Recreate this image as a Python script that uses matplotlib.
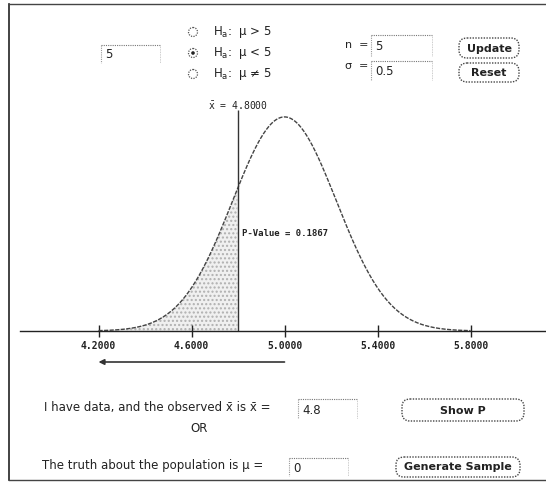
import numpy as np
import matplotlib
matplotlib.use("Agg")
import matplotlib.pyplot as plt
from matplotlib.patches import FancyBboxPatch, Circle

# ---- data ----
mu0 = 5.0
sigma = 0.5
n = 5
xbar = 4.8
p_value_label = "0.1867"
tick_values = [4.2, 4.6, 5.0, 5.4, 5.8]
tick_labels = ["4.2000", "4.6000", "5.0000", "5.4000", "5.8000"]
hyp_labels = ["μ > 5", "μ < 5", "μ ≠ 5"]
selected_hyp = 1
arrow_from = 5.0
arrow_to = 4.2

W, H = 546, 484
fig = plt.figure(figsize=(W / 100, H / 100), dpi=100)
fig.patch.set_facecolor("white")

# ---- main plot axes (data units) ----
ax = fig.add_axes([0, 0, 1, 1])
ppu_x, x0_px = 232.5, 284.5
ppu_y, y0_px = 120.0, 331.0
ax.set_xlim(mu0 - x0_px / ppu_x, mu0 + (W - x0_px) / ppu_x)
ax.set_ylim((y0_px - H) / ppu_y, y0_px / ppu_y)
ax.set_facecolor("none")
for s in ["top", "right", "left"]:
    ax.spines[s].set_visible(False)
ax.spines["bottom"].set_position(("data", 0))
ax.spines["bottom"].set_bounds(mu0 - (x0_px - 20) / ppu_x, mu0 + (W - x0_px) / ppu_x)
ax.spines["bottom"].set_color("#222222")
ax.spines["bottom"].set_linewidth(1.0)
ax.set_yticks([])
ax.set_xticks(tick_values)
ax.set_xticklabels(tick_labels, family="DejaVu Sans Mono", fontweight="bold",
                   fontsize=7, color="#222222")
ax.tick_params(axis="x", direction="inout", length=8, width=1, color="#222222", pad=3)

se = sigma / np.sqrt(n)
xs = np.linspace(4.2, 5.8, 400)
pdf = np.exp(-0.5 * ((xs - mu0) / se) ** 2) / (se * np.sqrt(2 * np.pi))
ax.plot(xs, pdf, color="#444444", lw=1.0, ls=(0, (3, 1)))

mask = xs <= xbar
ax.fill_between(xs[mask], 0, pdf[mask], facecolor="#f0f0f0", edgecolor="#b0b0b0",
                hatch="....", linewidth=0)

top_line = (y0_px - 110) / ppu_y
ax.vlines(xbar, 0, top_line, color="#333333", lw=1.0)
ax.text(xbar, (y0_px - 106) / ppu_y, r"$\bar{\mathregular{x}}$" + " = 4.8000", ha="center",
        va="center", family="DejaVu Sans Mono", fontsize=7, color="#222222")
ax.text(xbar + 4 / ppu_x, (y0_px - 233) / ppu_y, "P-Value = " + p_value_label,
        ha="left", va="center", family="DejaVu Sans Mono", fontweight="bold",
        fontsize=6.5, color="#222222")

ya = (y0_px - 362) / ppu_y
ax.annotate("", xy=(arrow_to, ya), xytext=(arrow_from, ya),
            arrowprops=dict(arrowstyle="-|>", lw=1.2, color="#333333",
                            mutation_scale=8, shrinkA=0, shrinkB=0))

# ---- UI overlay in pixel coordinates ----
ui = fig.add_axes([0, 0, 1, 1], facecolor="none")
ui.set_xlim(0, W)
ui.set_ylim(H, 0)
ui.axis("off")

# frame
ui.plot([9, 9], [4, 480], color="#222222", lw=1.2)
ui.plot([9, W], [4, 4], color="#444444", lw=1.0)
ui.plot([9, W], [480, 480], color="#444444", lw=1.0)

sans = "DejaVu Sans"

def textbox(x0, y0, x1, y1, txt):
    ui.plot([x0, x1], [y0, y0], color="#777777", lw=0.8, ls=(0, (1, 1)))
    ui.plot([x0, x0], [y0, y1], color="#999999", lw=0.8, ls=(0, (1, 1)))
    ui.plot([x1, x1], [y0, y1], color="#bbbbbb", lw=0.6, ls=(0, (1, 1)))
    ui.text(x0 + 4, (y0 + y1) / 2 + 1, txt, ha="left", va="center",
            family=sans, fontsize=8.5, color="#222222")

def button(x0, y0, x1, y1, txt):
    b = FancyBboxPatch((x0 + 6, y0), (x1 - x0) - 12, y1 - y0,
                       boxstyle="round,pad=0,rounding_size=8",
                       fc="white", ec="#444444", lw=1.0, ls=(0, (1, 1)))
    ui.add_patch(b)
    ui.text((x0 + x1) / 2, (y0 + y1) / 2 + 0.5, txt, ha="center", va="center",
            family=sans, fontweight="bold", fontsize=8, color="#222222")

# left box
textbox(101, 45, 160, 63, "5")

# radio buttons
radio_y = [32, 53, 74]
for i, (lab, yy) in enumerate(zip(hyp_labels, radio_y)):
    ui.add_patch(Circle((193, yy), 4.5, fc="white", ec="#555555", lw=0.9, ls=(0, (1, 1))))
    if i == selected_hyp:
        ui.add_patch(Circle((193, yy), 1.8, fc="#222222", ec="none"))
    ui.text(213, yy, r"H$_\mathregular{a}$:  " + lab, ha="left", va="center",
            family=sans, fontsize=8.5, color="#222222")

# n and sigma
ui.text(345, 45, "n  =", ha="left", va="center", family=sans, fontsize=8, color="#222222")
ui.text(345, 66, "σ  =", ha="left", va="center", family=sans, fontsize=8, color="#222222")
textbox(371, 35, 432, 56, "5")
textbox(371, 61, 432, 80, "0.5")

button(453, 38, 525, 58, "Update")
button(453, 63, 525, 82, "Reset")

# bottom controls
ui.text(44, 408, "I have data, and the observed x\u0304 is x\u0304 =", ha="left", va="center",
        family=sans, fontsize=8.5, color="#222222")
textbox(298, 399, 357, 419, "4.8")
ui.text(199, 428, "OR", ha="center", va="center", family=sans, fontsize=8.5, color="#222222")
ui.text(42, 466, "The truth about the population is μ =", ha="left", va="center",
        family=sans, fontsize=8.5, color="#222222")
textbox(289, 458, 348, 476, "0")

button(396, 399, 530, 421, "Show P")
button(390, 457, 526, 477, "Generate Sample")

fig.savefig("out.png", dpi=100, facecolor="white")
